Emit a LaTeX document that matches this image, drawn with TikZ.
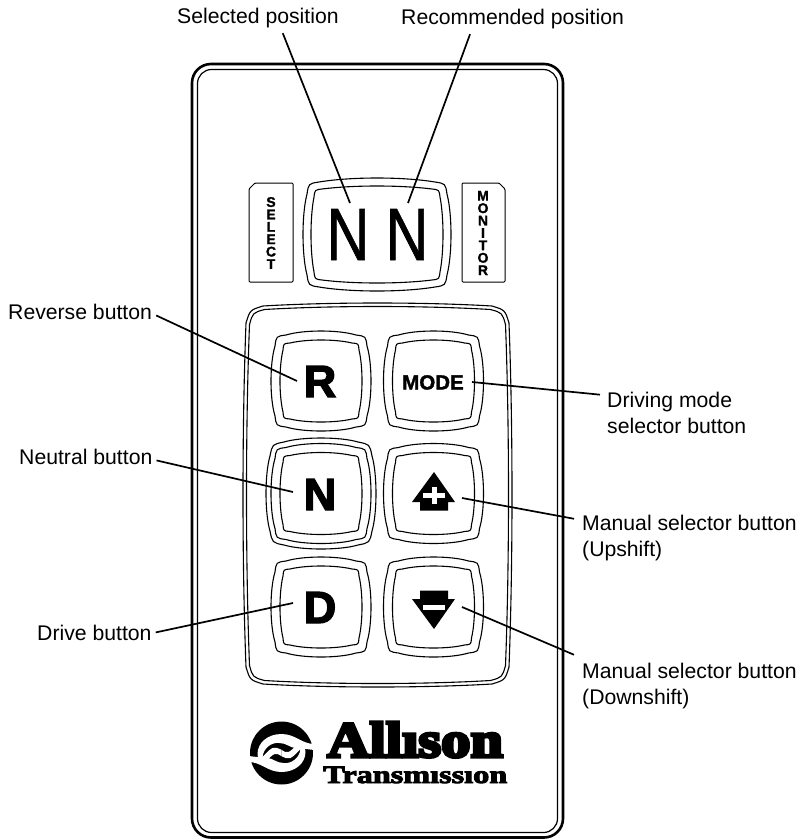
\documentclass[tikz,border=0pt]{standalone}
\usepackage{fontspec}
\setmainfont{Liberation Sans}
\newfontfamily\logofontA[FakeBold=6]{Liberation Serif Bold}
\newfontfamily\logofontB[FakeBold=3.5]{Liberation Serif Bold}
\newfontfamily\heavyfont[FakeBold=3]{Liberation Sans Bold}
\newfontfamily\tagfont[FakeBold=1.5]{Liberation Sans Bold}
\newfontfamily\dispfont[FakeBold=1]{Liberation Sans}
\newcommand\bul[6]{%
 \pgfmathsetmacro\Lq{#1-#3}\pgfmathsetmacro\Rq{#1+#3}%
 \pgfmathsetmacro\Tq{#2-#4}\pgfmathsetmacro\Bq{#2+#4}%
 \pgfmathsetmacro\Lr{\Lq+#6}\pgfmathsetmacro\Rr{\Rq-#6}%
 \pgfmathsetmacro\Tr{\Tq+#6}\pgfmathsetmacro\Br{\Bq-#6}%
 \pgfmathsetmacro\Lb{\Lq+#5}\pgfmathsetmacro\Rb{\Rq-#5}%
 \pgfmathsetmacro\Tb{\Tq+#5}\pgfmathsetmacro\Bb{\Bq-#5}%
 \pgfmathsetmacro\Tc{\Tq-#5/3}\pgfmathsetmacro\Bc{\Bq+#5/3}%
 \pgfmathsetmacro\Lc{\Lq-#5/3}\pgfmathsetmacro\Rc{\Rq+#5/3}%
 \pgfmathsetmacro\Xa{#1-#3*0.35}\pgfmathsetmacro\Xb{#1+#3*0.35}%
 \pgfmathsetmacro\Ya{#2-#4*0.35}\pgfmathsetmacro\Yb{#2+#4*0.35}%
 \pgfmathsetmacro\Xc{\Rq-#6*0.35}\pgfmathsetmacro\Xd{\Lq+#6*0.35}%
 \pgfmathsetmacro\Yc{\Tq+#6*0.35}\pgfmathsetmacro\Yd{\Bq-#6*0.35}%
 \draw[btnline] (\Lr,\Tb) .. controls (\Xa,\Tc) and (\Xb,\Tc) .. (\Rr,\Tb)
  .. controls (\Xc,\Yc) and (\Xc,\Yc) .. (\Rb,\Tr)
  .. controls (\Rc,\Ya) and (\Rc,\Yb) .. (\Rb,\Br)
  .. controls (\Xc,\Yd) and (\Xc,\Yd) .. (\Rr,\Bb)
  .. controls (\Xb,\Bc) and (\Xa,\Bc) .. (\Lr,\Bb)
  .. controls (\Xd,\Yd) and (\Xd,\Yd) .. (\Lb,\Br)
  .. controls (\Lc,\Yb) and (\Lc,\Ya) .. (\Lb,\Tr)
  .. controls (\Xd,\Yc) and (\Xd,\Yc) .. cycle;}
\tikzset{
 btnline/.style={line width=1.1pt,line join=round},
 leader/.style={line width=1.7pt},
 lbl/.style={font=\fontsize{21.2}{25.5}\selectfont,inner sep=0pt,anchor=base west,align=left},
 keyface/.style={font=\heavyfont\fontsize{45}{45}\selectfont,inner sep=0pt,anchor=base},
 tag/.style={draw,line width=1pt,line join=round},
 tagtext/.style={font=\tagfont\fontsize{14}{12.4}\selectfont,inner sep=0pt,align=center},
 dispN/.style={font=\dispfont\fontsize{74}{74}\selectfont,inner sep=0pt,anchor=base,xscale=.8}
}
\begin{document}
\begin{tikzpicture}[x=1pt,y=-1pt]
\useasboundingbox (0,0) rectangle (802,839);
% panel
\draw[line width=2.6pt,rounded corners=19pt] (192,64) rectangle (563,837.5);
\draw[line width=1.2pt,rounded corners=14pt] (197.5,69.5) rectangle (557.5,832.5);
% display
\bul{377}{234.5}{74}{56.5}{4}{16}
\bul{377}{234.5}{66}{48.5}{3}{11}
\node[dispN] (n1) at (348,260) {N};
\node[dispN] (n2) at (407,260) {N};
% tags
\draw[tag,rounded corners=1pt] (249,282) -- (249,189) -- (255,183) -- (293,183) -- (293,282) -- cycle;
\draw[tag,rounded corners=1pt] (462,282) -- (462,183) -- (499,183) -- (505,189) -- (505,282) -- cycle;
\node[tagtext] (sel) at (271,233) {S\\E\\L\\E\\C\\T};
\node[tagtext] (mon) at (483,233) {M\\O\\N\\I\\T\\O\\R};
% group frame
\bul{377.5}{495}{134.5}{192}{3}{20}
\bul{377.5}{495}{131}{188.5}{3}{18}
% buttons
\foreach \cx/\cy in {321/381,433.5/381,321/493.5,433.5/493.5,321/607,433.5/607}{
 \bul{\cx}{\cy}{50}{50}{4}{15}
 \bul{\cx}{\cy}{41}{41}{3}{10}
}
\bul{321}{493.5}{55}{55.5}{4}{18}
\node[keyface] (kR) at (320,397) {R};
\node[keyface] (kN) at (320,510) {N};
\node[keyface] (kD) at (320,623) {D};
\node[inner sep=0pt,anchor=base,font=\tagfont\fontsize{20.5}{21}\selectfont] (kM) at (433,389.5) {MODE};
% up symbol
\fill (434,472) -- (455,502) -- (448,502) -- (448,510.5) -- (420,510.5) -- (420,502) -- (412,502) -- cycle;
\fill[white] (431.5,487) rectangle (436.5,504);
\fill[white] (423,493) rectangle (444.5,498);
% down symbol
\fill (434,629) -- (455,599) -- (448,599) -- (448,590.5) -- (420,590.5) -- (420,599) -- (412,599) -- cycle;
\fill[white] (423,605) rectangle (444.5,610);
% logo
\begin{scope}[shift={(281.5,753)}]
\fill (0,0) circle (31.5);
\foreach \a in {0,180}{
\fill[white,rotate=\a] (33,-9) .. controls (20,-9) and (14,-19) .. (0,-19)
 .. controls (-14,-19) and (-24,-10) .. (-24,1)
 .. controls (-24,6) and (-21,9) .. (-17,8)
 .. controls (-13,7) and (-10,2) .. (-7,1)
 .. controls (-4,0) and (-2,2) .. (0,3.2)
 -- (0,-3.2)
 .. controls (-3,-5) and (-6,-6) .. (-9,-5)
 .. controls (-13,-3) and (-16,1) .. (-19,4)
 .. controls (-18,-5) and (-10,-11) .. (-2,-10)
 .. controls (5,-10) and (9,-5) .. (14,-5)
 .. controls (18,-5) and (24,-4) .. (33,-3) -- cycle;
}
\end{scope}
\node[inner sep=0pt,anchor=base west,font=\logofontA\fontsize{50.5}{50.5}\selectfont,xscale=1.16] (lgA) at (327,757) {Allıson};
\node[inner sep=0pt,anchor=base west,font=\logofontB\fontsize{25}{25}\selectfont,xscale=1.29] (lgT) at (323,783) {Transmıssıon};
% labels
\node[lbl] (lSel) at (177,23) {Selected position};
\node[lbl] (lRec) at (401,24) {Recommended position};
\node[lbl] (lRev) at (8,319) {Reverse button};
\node[lbl] (lNeu) at (19,464) {Neutral button};
\node[lbl] (lDri) at (37,640) {Drive button};
\node[lbl] (lMod) at (607,433) {Driving mode\\selector button};
\node[lbl] (lUp) at (582,556) {Manual selector button\\(Upshift)};
\node[lbl] (lDn) at (582,704) {Manual selector button\\(Downshift)};
% leader ends
\coordinate (tSel) at (350,203);
\coordinate (tRec) at (408,203);
\coordinate (tR) at (297,381);
\coordinate (tM) at (472,382);
\coordinate (tN) at (293,492);
\coordinate (tU) at (462,498);
\coordinate (tD) at (293,603);
\coordinate (tDn) at (462,607);
\draw[leader,shorten <=6pt] (lSel.-24.8) -- (tSel);
\draw[leader,shorten <=6pt] (lRec.194.7) -- (tRec);
\draw[leader] (lRev.east) ++(4,4) -- (tR);
\draw[leader] (lNeu.east) ++(4,4) -- (tN);
\draw[leader] (lDri.east) ++(4,0) -- (tD);
\draw[leader] (lMod.west) ++(-7,-18) -- (tM);
\draw[leader] (lUp.west) ++(-8,-19) -- (tU);
\draw[leader] (lDn.west) ++(-8,-31) -- (tDn);
\end{tikzpicture}
\end{document}
